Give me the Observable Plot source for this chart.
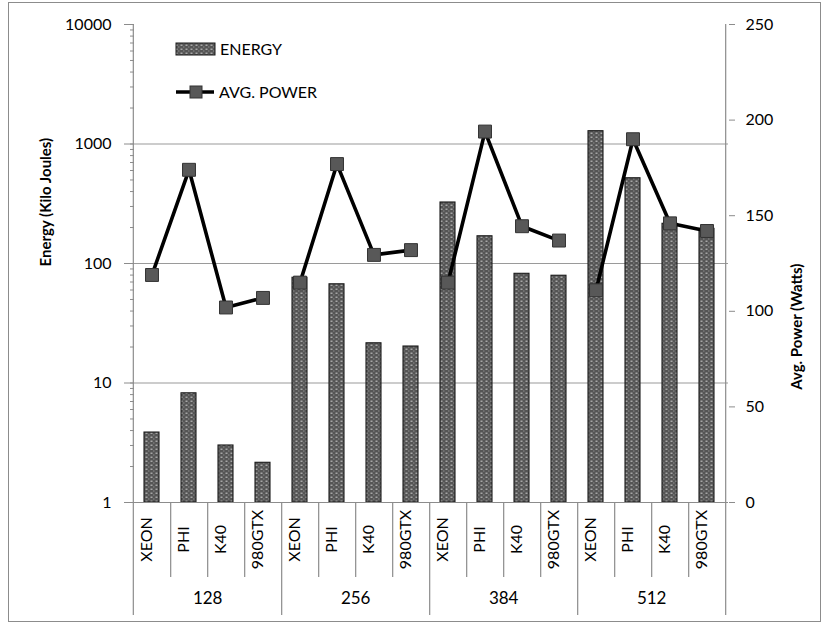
<!DOCTYPE html>
<html>
<head>
<meta charset="utf-8">
<script src="https://cdn.jsdelivr.net/npm/d3@7"></script>
<script src="https://cdn.jsdelivr.net/npm/@observablehq/plot@0.6"></script>
<style>
  html, body { margin: 0; padding: 0; background: #fff; }
  #wrap { position: relative; width: 827px; height: 625px; overflow: hidden; }
  #border { position: absolute; left: 8px; top: 2px; width: 811px; height: 618px; border: 1px solid #8c8c8c; pointer-events: none; }
</style>
</head>
<body>
<div id="wrap"><div id="border"></div></div>
<script>
// ---- data ----
const sizes = ["128", "256", "384", "512"];
const devices = ["XEON", "PHI", "K40", "980GTX"];
// energy (kJ), ordered size-major, device-minor
const energy = [3.85, 8.2, 3.0, 2.15,
                76, 67, 21.5, 20.2,
                324, 169, 82, 79,
                1280, 517, 215, 195];
// average power (W)
const power = [119, 174, 102, 107,
               115, 177, 129.5, 132,
               115, 194, 144.5, 137,
               111, 190, 146, 142];
const energyTicks = [1, 10, 100, 1000, 10000];
const gridValues = [10, 100, 1000];
const powerTicks = [0, 50, 100, 150, 200, 250];
const powerMax = 250;

// ---- build table ----
const rows = [];
sizes.forEach((s, i) => devices.forEach((d, j) => {
  const k = i * devices.length + j;
  rows.push({size: s, device: d, key: s + "|" + d, energy: energy[k], power: power[k], last: j === devices.length - 1});
}));
const keys = rows.map(r => r.key);

// map power (linear 0..250) onto the log energy scale (1..10000)
const decades = Math.log10(energyTicks[energyTicks.length - 1]);
const pw = p => Math.pow(10, p * decades / powerMax);
const minorTicks = [];
for (let e = 0; e < decades; e++) for (let m = 2; m <= 9; m++) minorTicks.push(m * Math.pow(10, e));

const W = 827, H = 625, ML = 130, MR = 99, MT = 24, MB = 123;
const step = (W - ML - MR) / keys.length;
const FONT = "Lato, 'Open Sans', sans-serif";
const AXIS = "#8c8c8c";

const chart = Plot.plot({
  width: W, height: H,
  marginLeft: ML, marginRight: MR, marginTop: MT, marginBottom: MB,
  style: {fontFamily: FONT, fontSize: "16px", background: "transparent", color: "#000", overflow: "visible"},
  x: {type: "band", domain: keys, paddingInner: 0.6, paddingOuter: 0.3, axis: null},
  y: {type: "log", domain: [1, 10000]},
  marks: [
    // grid
    Plot.ruleY(gridValues, {stroke: "#9a9a9a", strokeWidth: 1.2}),
    // bars
    Plot.barY(rows, {x: "key", y1: 1, y2: "energy", fill: "url(#barpat)", stroke: "#1a1a1a", strokeWidth: 1.1}),
    // power line (broken between groups) and markers
    Plot.line(rows, {x: "key", y: d => pw(d.power), z: "size", stroke: "#000", strokeWidth: 3.6}),
    Plot.dot(rows, {x: "key", y: d => pw(d.power), symbol: "square", r: 7.3, fill: "#585858", stroke: "#333", strokeWidth: 1}),
    // bottom axis line
    Plot.ruleY([1], {stroke: AXIS, strokeWidth: 1.2}),
    // left & right axis lines extended to the bottom of the category table
    Plot.ruleX(rows.filter((r, i) => i === 0), {x: "key", dx: -step / 2, stroke: AXIS, strokeWidth: 1.2, insetBottom: -113}),
    Plot.ruleX(rows.filter((r, i) => i === rows.length - 1), {x: "key", dx: step / 2, stroke: AXIS, strokeWidth: 1.2, insetBottom: -113}),
    // group separators
    Plot.ruleX(rows.filter((r, i) => r.last && i < rows.length - 1), {x: "key", dx: step / 2, stroke: AXIS, strokeWidth: 1.2, insetTop: H - MT - MB, insetBottom: -113}),
    // category separators
    Plot.ruleX(rows.filter(r => !r.last), {x: "key", dx: step / 2, stroke: AXIS, strokeWidth: 1.2, insetTop: H - MT - MB, insetBottom: -75}),
    // left axis
    Plot.axisY({anchor: "left", ticks: energyTicks, tickFormat: d => String(d), tickSize: 6, tickPadding: 13, stroke: AXIS, fill: "#000", fontSize: 16, label: null}),
    Plot.axisY({anchor: "left", ticks: minorTicks.concat(energyTicks), tickFormat: () => "", tickSize: 4, dx: 4, stroke: AXIS, label: null}),
    // right axis (power): ticks, then labels as text
    Plot.axisY({anchor: "right", ticks: powerTicks.map(pw), tickFormat: () => "", tickSize: 6, stroke: AXIS, label: null}),
    Plot.text(powerTicks, {y: d => pw(d), text: d => String(d), frameAnchor: "right", dx: 17, textAnchor: "start", fontSize: 16, fill: "#000"}),
    // category labels
    Plot.text(rows, {x: "key", text: "device", frameAnchor: "bottom", dy: 37, rotate: -90, textAnchor: "middle", fontSize: 16, fill: "#000"}),
    // group labels (centred between 2nd and 3rd category)
    Plot.text(rows.filter(r => r.device === devices[1]), {x: "key", text: "size", frameAnchor: "bottom", dx: step / 2, dy: 101, fontSize: 17, fill: "#000"}),
    // axis titles
    Plot.text(["Energy (Kilo Joules)"], {frameAnchor: "left", dx: -84, dy: 3, rotate: -90, fontWeight: "bold", fontSize: 15, fill: "#000"}),
    Plot.text(["Avg. Power (Watts)"], {frameAnchor: "right", dx: 69, dy: 0, rotate: -90, fontWeight: "bold", fontSize: 15, fill: "#000"})
  ]
});

// pattern fill for bars
const svg = d3.select(chart);
const defs = svg.insert("defs", ":first-child");
const pat = defs.append("pattern").attr("id", "barpat").attr("patternUnits", "userSpaceOnUse").attr("width", 5).attr("height", 4);
pat.append("rect").attr("width", 5).attr("height", 4).attr("fill", "#555555");
pat.append("rect").attr("x", 0.5).attr("y", 0.5).attr("width", 2).attr("height", 1.5).attr("fill", "#a6a6a6");
pat.append("rect").attr("x", 3).attr("y", 2.5).attr("width", 1.5).attr("height", 1).attr("fill", "#8a8a8a");

// legend
const lg = svg.append("g").attr("font-family", FONT).attr("font-size", 16).attr("text-anchor", "start");
lg.append("rect").attr("x", 176).attr("y", 43).attr("width", 39).attr("height", 12).attr("fill", "url(#barpat)").attr("stroke", "#1a1a1a");
lg.append("text").attr("x", 220).attr("y", 49).attr("dy", "0.36em").text("ENERGY");
lg.append("line").attr("x1", 176).attr("x2", 214).attr("y1", 92).attr("y2", 92).attr("stroke", "#000").attr("stroke-width", 3.6);
lg.append("rect").attr("x", 190).attr("y", 86).attr("width", 12).attr("height", 12).attr("fill", "#585858").attr("stroke", "#333");
lg.append("text").attr("x", 219).attr("y", 92).attr("dy", "0.36em").text("AVG. POWER");

document.getElementById("wrap").prepend(chart);
</script>
</body>
</html>
